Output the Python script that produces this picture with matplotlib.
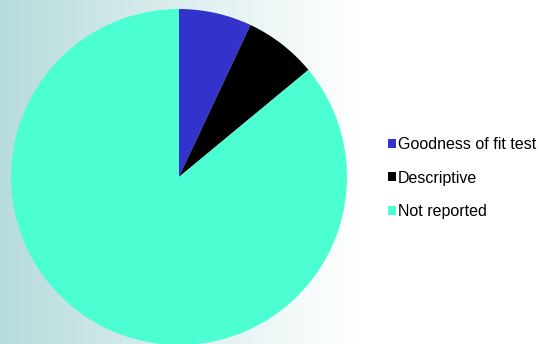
import numpy as np
import matplotlib.pyplot as plt
from matplotlib.patches import Patch
from matplotlib.colors import LinearSegmentedColormap

plt.rcParams['font.family'] = ['Liberation Sans', 'DejaVu Sans']

# Share of studies by evaluation method (%)
labels = ['Goodness of fit test', 'Descriptive', 'Not reported']
shares = [7, 7, 86]
colors = ['#3333CC', '#000000', '#4BFFD2']

W, H = 539, 344
fig = plt.figure(figsize=(W / 100, H / 100), dpi=100)

# Background: soft teal on the left fading to white
bg = fig.add_axes([0, 0, 1, 1])
grad_cmap = LinearSegmentedColormap.from_list(
    'bg', [(0.0, '#B8DCDC'), (0.66, '#FFFFFF'), (1.0, '#FFFFFF')])
bg.imshow(np.linspace(0, 1, 256)[None, :], aspect='auto', cmap=grad_cmap,
          extent=[0, 1, 0, 1])
bg.axis('off')

# Pie
cx, cy, r = 179, 177, 168
ax = fig.add_axes([(cx - r) / W, (H - cy - r) / H, 2 * r / W, 2 * r / H])
ax.pie(shares, colors=colors, startangle=90, counterclock=False, radius=1,
       wedgeprops=dict(linewidth=0))
ax.set_xlim(-1, 1)
ax.set_ylim(-1, 1)
ax.set_aspect('equal')
ax.axis('off')

handles = [Patch(facecolor=c, edgecolor='none') for c in colors]
fig.legend(handles, labels, loc='center left', bbox_to_anchor=(382 / W, 1 - 178 / H),
           frameon=False, fontsize=11.5, handlelength=0.5, handleheight=0.5,
           handletextpad=0.1, labelspacing=1.15, borderaxespad=0)

fig.savefig('out.png', dpi=100)
